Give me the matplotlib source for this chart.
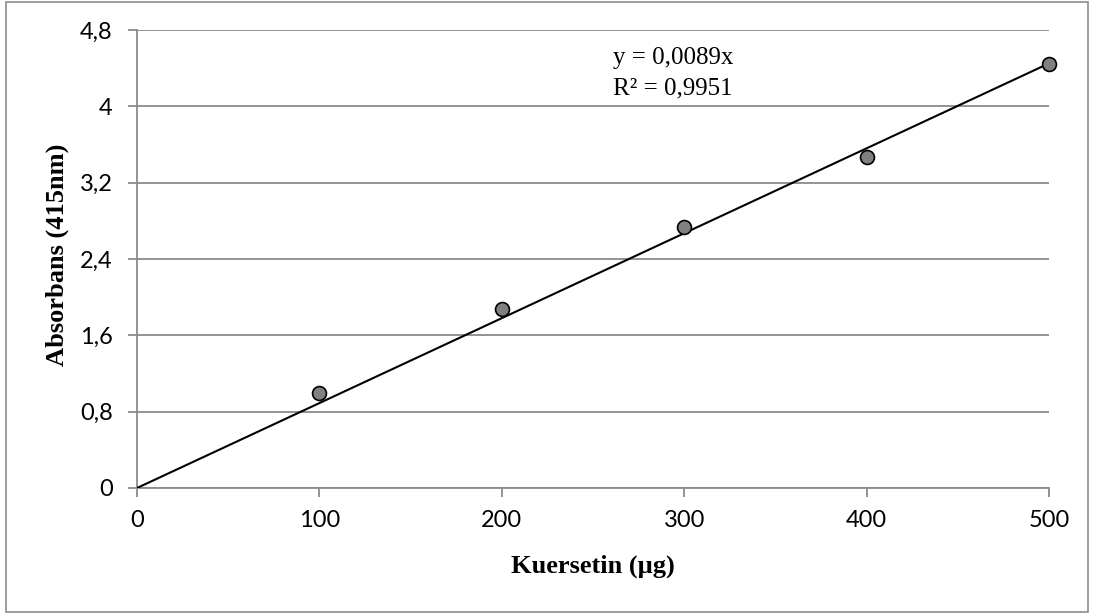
import matplotlib
matplotlib.use("Agg")
import matplotlib.pyplot as plt
import numpy as np
from matplotlib.patches import Rectangle

# Data
kuersetin = [100, 200, 300, 400, 500]
absorbans = [1.00, 1.88, 2.735, 3.47, 4.44]
slope = 0.0089
r2_text = "R² = 0,9951"
eq_text = "y = 0,0089x"
x_ticks = [0, 100, 200, 300, 400, 500]
y_ticks = [0, 0.8, 1.6, 2.4, 3.2, 4.0, 4.8]
y_ticklabels = ["0", "0,8", "1,6", "2,4", "3,2", "4", "4,8"]

W, H = 1099, 614
fig = plt.figure(figsize=(W/100, H/100), dpi=100)
fig.patch.set_facecolor("white")

# outer chart border
fig.add_artist(Rectangle((6/W, 2/H), (1088-6)/W, (612-2)/H, transform=fig.transFigure,
                         fill=False, edgecolor="#8c8c8c", linewidth=1.2))

ax = fig.add_axes([137/W, 1-488/H, (1049-137)/W, (488-30)/H])
ax.set_xlim(0, 500)
ax.set_ylim(0, 4.8)

grid_color = "#8a8a8a"
ax.set_yticks(y_ticks)
ax.set_yticklabels(y_ticklabels)
ax.set_xticks(x_ticks)
ax.yaxis.grid(True, color=grid_color, linewidth=1.3)
ax.set_axisbelow(True)
for s in ["top", "right"]:
    ax.spines[s].set_visible(False)
for s in ["left", "bottom"]:
    ax.spines[s].set_color(grid_color)
    ax.spines[s].set_linewidth(1.3)
ax.tick_params(axis="both", direction="out", length=6.5, width=1.3, color=grid_color,
               labelsize=17)
ax.tick_params(axis="y", pad=11)
ax.tick_params(axis="x", pad=9)
for lab in ax.get_xticklabels() + ax.get_yticklabels():
    lab.set_fontfamily("Lato")

# trendline
xl = np.array([0, 500])
ax.plot(xl, slope * xl, color="black", linewidth=1.5, zorder=3)
# points
ax.plot(kuersetin, absorbans, linestyle="none", marker="o", markersize=10,
        markerfacecolor="#808080", markeredgecolor="black", markeredgewidth=1.2,
        zorder=4, clip_on=False)

ax.text(613/W, 1-58/H, eq_text, transform=fig.transFigure, fontsize=18,
        family="Liberation Serif", va="center", ha="left")
ax.text(613/W, 1-88/H, r2_text, transform=fig.transFigure, fontsize=18,
        family="Liberation Serif", va="center", ha="left")

fig.text(593/W, 1-566/H, "Kuersetin (µg)", fontsize=19, fontweight="bold",
         family="Liberation Serif", ha="center", va="center")
fig.text(57/W, 1-255/H, "Absorbans (415nm)", fontsize=19, fontweight="bold",
         family="Liberation Serif", ha="center", va="center", rotation=90)

fig.savefig("out.png", dpi=100)
